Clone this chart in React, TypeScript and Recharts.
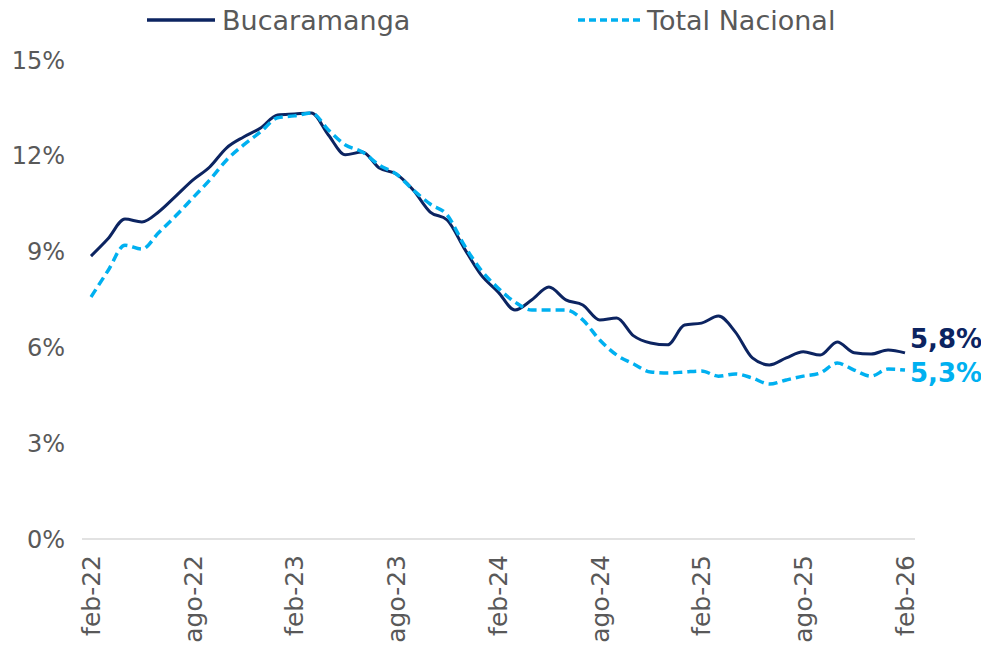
import { LineChart, Line, XAxis, YAxis, CartesianGrid, Legend } from "recharts";

const months = [
  "feb-22", "mar-22", "abr-22", "may-22", "jun-22", "jul-22", "ago-22", "sep-22", "oct-22", "nov-22", "dic-22", "ene-23",
  "feb-23", "mar-23", "abr-23", "may-23", "jun-23", "jul-23", "ago-23", "sep-23", "oct-23", "nov-23", "dic-23", "ene-24",
  "feb-24", "mar-24", "abr-24", "may-24", "jun-24", "jul-24", "ago-24", "sep-24", "oct-24", "nov-24", "dic-24", "ene-25",
  "feb-25", "mar-25", "abr-25", "may-25", "jun-25", "jul-25", "ago-25", "sep-25", "oct-25", "nov-25", "dic-25", "ene-26",
  "feb-26",
];

const bucaramanga = [
  8.86, 9.4, 10.02, 9.93, 10.25, 10.74, 11.24, 11.65, 12.25, 12.59, 12.87, 13.28,
  13.31, 13.34, 12.65, 12.03, 12.12, 11.62, 11.43, 10.93, 10.24, 9.99, 9.11, 8.27,
  7.74, 7.17, 7.49, 7.89, 7.49, 7.33, 6.86, 6.92, 6.36, 6.14, 6.08, 6.7,
  6.76, 6.98, 6.48, 5.67, 5.45, 5.67, 5.86, 5.76, 6.17, 5.83, 5.79, 5.92,
  5.83,
];

const totalNacional = [
  7.58, 8.4, 9.2, 9.08, 9.6, 10.12, 10.68, 11.24, 11.87, 12.34, 12.75, 13.19,
  13.25, 13.34, 12.81, 12.34, 12.12, 11.71, 11.43, 10.93, 10.49, 10.15, 9.21, 8.42,
  7.86, 7.42, 7.17, 7.17, 7.17, 6.86, 6.23, 5.76, 5.48, 5.23, 5.2, 5.23,
  5.26, 5.1, 5.17, 5.04, 4.85, 4.98, 5.1, 5.2, 5.51, 5.29, 5.1, 5.32,
  5.29,
];

const yTicks = [0, 3, 6, 9, 12, 15];
const endLabels = ["5,8%", "5,3%"];

const DARK = "#0C2461";
const LIGHT = "#00B0F0";
const GREY = "#595959";
const FONT = "'Century Gothic', 'DejaVu Sans', sans-serif";

const data = months.map((m, i) => ({ month: m, buc: bucaramanga[i], nac: totalNacional[i] }));

function XTick({ x, y, payload }) {
  return (
    <text
      x={x}
      y={y + 8}
      transform={`rotate(-90, ${x}, ${y + 8})`}
      textAnchor="end"
      dy="0.35em"
      fill={GREY}
      fontSize={25}
      fontFamily={FONT}
    >
      {payload.value}
    </text>
  );
}

function endLabel(text, color, dy) {
  return function Label(props) {
    const { x, y, index } = props;
    if (index !== data.length - 1) return null;
    return (
      <text x={x + 5} y={y + dy} fill={color} fontSize={26} fontWeight="bold" fontFamily={FONT} dominantBaseline="central">
        {text}
      </text>
    );
  };
}

function LegendContent() {
  const items = [
    { name: "Bucaramanga", color: DARK, dash: undefined, x1: 147, x2: 215, tx: 222 },
    { name: "Total Nacional", color: LIGHT, dash: "7 4", x1: 578, x2: 641, tx: 647 },
  ];
  return (
    <svg width={981} height={44} style={{ display: "block" }}>
      {items.map((it) => (
        <g key={it.name}>
          <line x1={it.x1} x2={it.x2} y1={20} y2={20} stroke={it.color} strokeWidth={3.5} strokeDasharray={it.dash} />
          <text x={it.tx} y={20} dominantBaseline="central" fill={GREY} fontSize={27} fontFamily={FONT}>
            {it.name}
          </text>
        </g>
      ))}
    </svg>
  );
}

export default function App() {
  return (
    <div style={{ position: "absolute", left: 0, top: 0, background: "#fff" }}>
      <LineChart width={981} height={654} data={data} margin={{ top: 16, right: 66, bottom: 0, left: 0 }}>
        <CartesianGrid horizontal={false} vertical={false} />
        <XAxis
          dataKey="month"
          interval={5}
          height={115}
          tick={XTick}
          tickLine={false}
          axisLine={{ stroke: "#D9D9D9", strokeWidth: 1.5 }}
          padding={{ left: 9, right: 10 }}
        />
        <YAxis
          width={82}
          domain={[0, 15]}
          ticks={yTicks}
          tickFormatter={(v) => `${v}%`}
          tick={{ fill: GREY, fontSize: 24, fontFamily: FONT }}
          tickLine={false}
          axisLine={false}
          tickSize={0}
          tickMargin={17}
        />
        <Legend
          verticalAlign="top"
          align="left"
          content={LegendContent}
          wrapperStyle={{ top: 0, left: 0, width: 981, height: 44 }}
        />
        <Line
          type="monotone"
          dataKey="buc"
          name="Bucaramanga"
          stroke={DARK}
          strokeWidth={3}
          dot={false}
          isAnimationActive={false}
          label={endLabel(endLabels[0], DARK, -14)}
        />
        <Line
          type="monotone"
          dataKey="nac"
          name="Total Nacional"
          stroke={LIGHT}
          strokeWidth={3.5}
          strokeDasharray="9 5"
          dot={false}
          isAnimationActive={false}
          label={endLabel(endLabels[1], LIGHT, 3)}
        />
      </LineChart>
    </div>
  );
}
